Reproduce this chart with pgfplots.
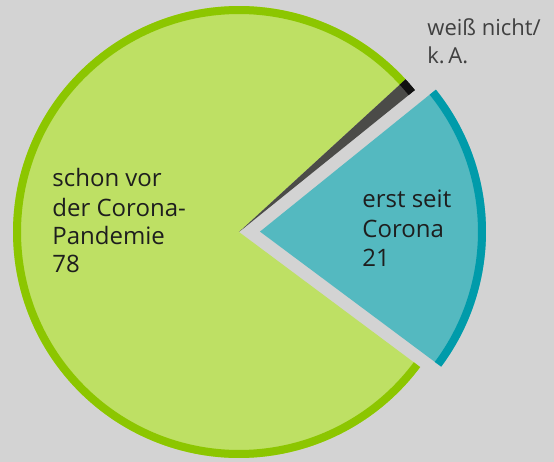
\documentclass[border=0pt]{standalone}
\usepackage{fontspec}
\setmainfont{Open Sans}
\usepackage{pgfplots}
\usepackage{pgfplotstable}
\pgfplotsset{compat=1.18}

\definecolor{bggrey}{HTML}{D3D3D3}
\definecolor{greenfill}{HTML}{BEE064}
\definecolor{greenedge}{HTML}{8CC600}
\definecolor{tealfill}{HTML}{54B9C0}
\definecolor{tealedge}{HTML}{009BAA}
\definecolor{darkfill}{HTML}{4B4B48}
\definecolor{darkedge}{HTML}{111111}
\definecolor{labeltext}{HTML}{1E1E1E}
\definecolor{notetext}{HTML}{404040}

% share in percent, explode distance in px
\pgfplotstableread{
label value shift
teal  21    21
dark  1     0
green 78    0
}\pietable

\pgfplotstablegetelem{0}{value}\of\pietable \let\vTeal\pgfplotsretval
\pgfplotstablegetelem{1}{value}\of\pietable \let\vDark\pgfplotsretval
\pgfplotstablegetelem{2}{value}\of\pietable \let\vGreen\pgfplotsretval
\pgfplotstablegetelem{0}{shift}\of\pietable \let\sTeal\pgfplotsretval

% 1 px of the reference = 0.5pt
\def\cx{239}
\def\cy{230}
\def\R{113pt}      % 226 px
\def\Rb{111pt}     % middle of the outer rim
\pgfmathsetmacro\aStart{-36.7}
\pgfmathsetmacro\aTeal{\aStart+3.6*\vTeal}
\pgfmathsetmacro\aDark{\aTeal+3.6*\vDark}
\pgfmathsetmacro\aGreen{\aDark+3.6*\vGreen}
\pgfmathsetmacro\tMid{(\aStart+\aTeal)/2}
\pgfmathsetmacro\tx{\cx+\sTeal*cos(\tMid)}
\pgfmathsetmacro\ty{\cy+\sTeal*sin(\tMid)}

% fill colour, rim colour, start, end, apex x, apex y
\newcommand\slice[6]{%
  \fill[#1] (axis cs:#5,#6) -- ++(#3:\R) arc[start angle=#3, end angle=#4, radius=\R] -- cycle;
  \draw[#2, line width=4pt] (axis cs:#5,#6) ++(#3:\Rb) arc[start angle=#3, end angle=#4, radius=\Rb];
}

\begin{document}
\begin{tikzpicture}
\begin{axis}[
  x=0.5pt, y=0.5pt,
  xmin=0, xmax=554, ymin=0, ymax=462,
  hide axis,
  clip=false,
]
\fill[bggrey] (axis cs:0,0) rectangle (axis cs:554,462);
\coordinate (bl) at (axis cs:0,0);
\coordinate (tr) at (axis cs:554,462);
\slice{greenfill}{greenedge}{\aDark}{\aGreen}{\cx}{\cy}
\slice{darkfill}{darkedge}{\aTeal}{\aDark}{\cx}{\cy}
\slice{tealfill}{tealedge}{\aStart}{\aTeal}{\tx}{\ty}

\begin{scope}[every node/.style={anchor=base west, inner sep=0pt, font=\fontsize{12pt}{14pt}\selectfont}]
\node[labeltext] at (axis cs:52,275) {schon vor};
\node[labeltext] at (axis cs:52,245) {der Corona-};
\node[labeltext] at (axis cs:52,217) {Pandemie};
\node[labeltext] at (axis cs:52,189) {78};
\node[labeltext] at (axis cs:362,254) {erst seit};
\node[labeltext] at (axis cs:362,224) {Corona};
\node[labeltext] at (axis cs:362,195) {21};
\end{scope}
\begin{scope}[every node/.style={anchor=base west, inner sep=0pt, font=\fontsize{11pt}{13pt}\selectfont, text=notetext}]
\node at (axis cs:427,426) {weiß nicht/};
\node at (axis cs:427,399) {k.\,A.};
\end{scope}
\end{axis}
\pgfresetboundingbox
\useasboundingbox (bl) rectangle (tr);
\end{tikzpicture}
\end{document}
